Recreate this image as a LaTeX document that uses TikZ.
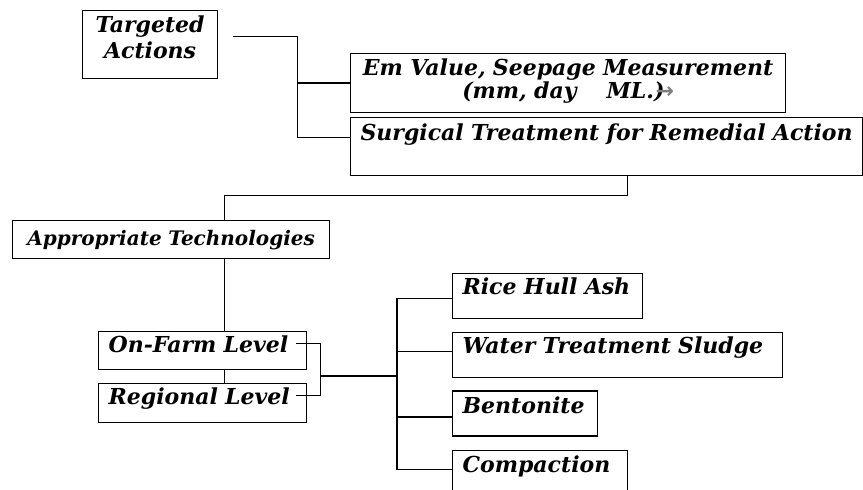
\documentclass[tikz,border=0pt]{standalone}
\usepackage{fontspec}
\setmainfont{DejaVu Serif}
\newfontfamily\arrowfont{DejaVu Sans}
\usepackage{tikz}
\usetikzlibrary{positioning}

\begin{document}
\begin{tikzpicture}[x=1pt, y=-1pt, line width=1.2pt,
    box/.style = {draw, rectangle, inner ysep=0pt, inner xsep=10pt, anchor=north west, align=left,
                  font=\bfseries\itshape\fontsize{22}{18}\selectfont}]
            \useasboundingbox (0,0) rectangle (863,490);

            % top part
            \node[box, align=center, inner xsep=0pt, text width=135pt] (TA) at (82,10)
                {\rule{0pt}{22pt}Targeted\\[3pt]Actions\rule[-20pt]{0pt}{1pt}};
            \node[box, align=center, inner xsep=0pt, text width=435pt] (EV) at (350,53)
                {\rule{0pt}{22pt}Em Value, Seepage Measurement\\(mm, day\hspace{30pt}ML.){\color{gray}\kern-9pt\arrowfont\bfseries →}\rule[-14pt]{0pt}{1pt}};
            \node[box, text width=492pt, text height=23pt, text depth=35pt] (ST) at (350,117) {\mbox{Surgical Treatment for Remedial Action}};

            \node[box, align=center, inner xsep=0pt, text width=317pt, text height=25pt, text depth=13pt,
                  font=\bfseries\itshape\fontsize{20}{18}\selectfont] (AT) at (12,220) {Appropriate Technologies};

            % levels
            \node[box, text width=188pt, text height=21pt, text depth=17pt] (OF) at (98,331) {On-Farm Level};
            \node[box, text width=188pt, text height=21pt, text depth=18pt, below=13pt of OF] (RL) {Regional Level};

            % materials
            \node[box, text width=170pt, text height=21pt, text depth=24pt] (RH) at (452,273) {Rice Hull Ash};
            \node[box, text width=310pt, text height=21pt, text depth=24pt, below=13pt of RH.south west, anchor=north west] (WS) {Water Treatment Sludge};
            \node[box, text width=125pt, text height=22pt, text depth=23pt, below=12pt of WS.south west, anchor=north west] (BE) {Bentonite};
            \node[box, text width=155pt, text height=22pt, text depth=24pt, below=13pt of BE.south west, anchor=north west] (CO) {Compaction};

            \coordinate (ta) at ([xshift=15pt,yshift=8pt]TA.east);
            \draw (ta) -- ++(64,0) coordinate (tb) |- ([yshift=9pt]ST.west);
            \draw (tb |- EV.west) -- (EV.west);

            \draw ([xshift=21pt]ST.south) -- ++(0,19) -| ([xshift=53.5pt]AT.north);
            \draw ([xshift=53.5pt]AT.south) -- ([xshift=22pt]OF.north);
            \draw ([xshift=22pt]OF.south) -- ([xshift=22pt]RL.north);

            \draw ([xshift=-11pt,yshift=7pt]OF.east) -- ++(24,0) coordinate (lv) |- ([xshift=-11pt,yshift=7.5pt]RL.east);
            \coordinate (hub) at (397,376);
            \draw (lv |- hub) -- (hub);
            \foreach \n/\s in {RH/-2.5,WS/3.5,BE/-3.5,CO/3.5}
                \draw (hub) |- ([yshift=\s pt]\n.west);
        \end{tikzpicture}
\end{document}
